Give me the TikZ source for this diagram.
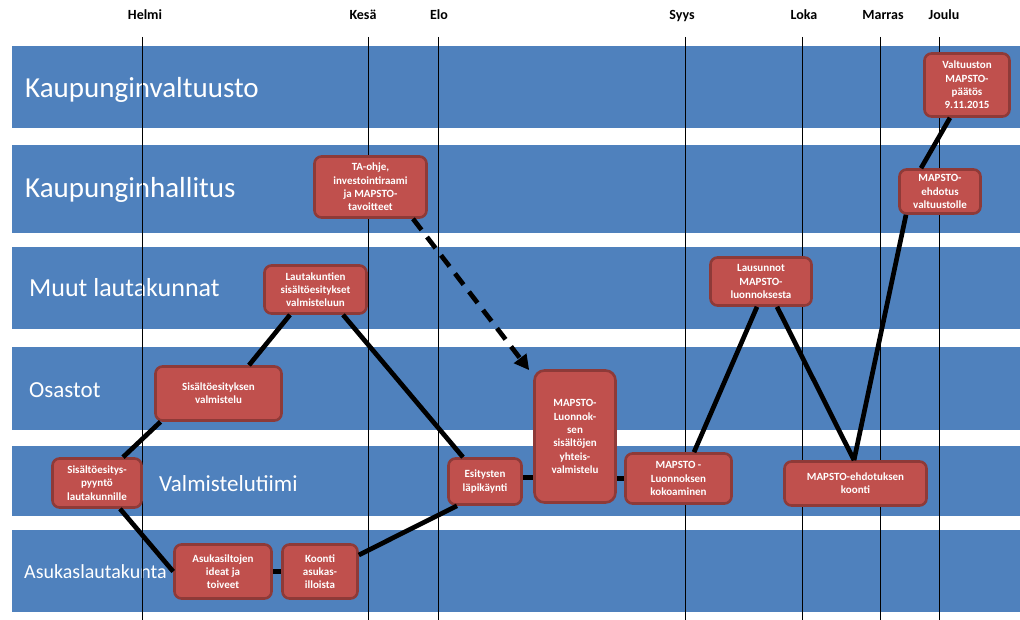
\documentclass[tikz,border=0pt]{standalone}
\usepackage{fontspec}
\setmainfont{Carlito}
\usetikzlibrary{arrows.meta}
\definecolor{laneblue}{HTML}{4F81BD}
\definecolor{boxred}{HTML}{C0504D}
\definecolor{boxedge}{HTML}{8E3A38}

\begin{document}
\begin{tikzpicture}[x=1pt,y=-1pt,
  lane/.style={fill=laneblue,draw=none},
  lanelabel/.style={anchor=base west,text=white,inner sep=0pt},
  month/.style={anchor=base,inner sep=0pt,font=\fontsize{14}{16}\selectfont\bfseries},
  gridline/.style={line width=1pt,black},
  stepbox/.style={draw=boxedge,fill=boxred,line width=2.6pt,rounded corners=7pt,
    text=white,align=center,inner sep=1pt,
    font=\fontsize{11}{13.3}\selectfont\bfseries},
  flow/.style={line width=4.7pt,black},
  dashflow/.style={line width=4.7pt,black,dash pattern=on 14pt off 9pt,
    -{Triangle[length=15pt,width=15pt]}}
]
\useasboundingbox (0,0) rectangle (1020,620);
\fill[white] (0,0) rectangle (1020,620);

% swim lanes
\fill[lane] (12,46.5) rectangle (1020,128);
\fill[lane] (12,145) rectangle (1020,233);
\fill[lane] (12,247.5) rectangle (1020,329);
\fill[lane] (12,347) rectangle (1020,430);
\fill[lane] (12,445.5) rectangle (1020,516);
\fill[lane] (12,530) rectangle (1020,612);

% lane titles
\node[lanelabel,font=\fontsize{29}{34}\selectfont] (lKv) at (25,98) {Kaupunginvaltuusto};
\node[lanelabel,font=\fontsize{29}{34}\selectfont] (lKh) at (25,198) {Kaupunginhallitus};
\node[lanelabel,font=\fontsize{26}{31}\selectfont] (lMl) at (29,297) {Muut lautakunnat};
\node[lanelabel,font=\fontsize{23}{28}\selectfont] (lOs) at (29,397) {Osastot};
\node[lanelabel,font=\fontsize{23}{28}\selectfont] (lVt) at (159,491) {Valmistelutiimi};
\node[lanelabel,font=\fontsize{20}{24}\selectfont] (lAl) at (24,578) {Asukaslautakunta};

% months
\node[month] (mHelmi) at (145,20) {Helmi};
\node[month] (mKesa) at (363,20) {Kesä};
\node[month] (mElo) at (439,20) {Elo};
\node[month] (mSyys) at (682,20) {Syys};
\node[month] (mLoka) at (804,20) {Loka};
\node[month] (mMarras) at (883,20) {Marras};
\node[month] (mJoulu) at (944,20) {Joulu};

\foreach \gx in {142,368,438,685,802,880,939}
  \draw[gridline] (\gx,37) -- (\gx,620);

% process steps
\node[stepbox,minimum width=85pt,minimum height=63pt] (valt) at (967,85)
  {Valtuuston\\MAPSTO-\\päätös\\9.11.2015};
\node[stepbox,minimum width=112pt,minimum height=61pt] (ta) at (370.5,187)
  {TA-ohje,\\investointiraami\\ja MAPSTO-\\tavoitteet};
\node[stepbox,minimum width=102pt,minimum height=48pt] (lautak) at (315.5,289.5)
  {Lautakuntien\\sisältöesitykset\\valmisteluun};
\node[stepbox,minimum width=81pt,minimum height=44pt] (ehdval) at (940,191.5)
  {MAPSTO-\\ehdotus\\valtuustolle};
\node[stepbox,minimum width=101pt,minimum height=48pt] (lausunnot) at (761,281.5)
  {Lausunnot\\MAPSTO-\\luonnoksesta};
\node[stepbox,minimum width=126pt,minimum height=54pt] (sisval) at (218.5,393.5)
  {Sisältöesityksen\\valmistelu};
\node[stepbox,minimum width=89pt,minimum height=49pt] (pyynto) at (97,483)
  {Sisältöesitys-\\pyyntö\\lautakunnille};
\node[stepbox,minimum width=97pt,minimum height=54pt] (asukas) at (223,571.5)
  {Asukasiltojen\\ideat ja\\toiveet};
\node[stepbox,minimum width=75pt,minimum height=54pt] (koonti) at (320,571.5)
  {Koonti\\asukas-\\illoista};
\node[stepbox,minimum width=73pt,minimum height=46pt] (esit) at (485,481.5)
  {Esitysten\\läpikäynti};
\node[stepbox,minimum width=81pt,minimum height=132pt,rounded corners=10pt] (yhteis) at (575,436.5)
  {MAPSTO-\\Luonnok-\\sen\\sisältöjen\\yhteis-\\valmistelu};
\node[stepbox,minimum width=106pt,minimum height=50pt] (kokoam) at (678.5,478.5)
  {MAPSTO -\\Luonnoksen\\kokoaminen};
\node[stepbox,minimum width=142pt,minimum height=44pt] (ehdkoonti) at (855.5,483.5)
  {MAPSTO-ehdotuksen\\koonti};

% flow between the steps
\draw[flow] ([xshift=26pt]pyynto.north) -- ([xshift=-58pt]sisval.south);
\draw[flow] ([xshift=30.5pt]sisval.north) -- ([xshift=-25.5pt]lautak.south);
\draw[flow] ([xshift=27.5pt]lautak.south) -- ([xshift=-22pt]esit.north);
\draw[flow] ([xshift=23pt]pyynto.south) -- (asukas.west);
\draw[flow] (asukas.east) -- (koonti.west);
\draw[flow] ([yshift=16.5pt]koonti.east) -- ([xshift=-28pt]esit.south);
\draw[flow] ([yshift=4pt]esit.east) -- ([yshift=4pt]esit.east -| yhteis.west);
\draw[flow] (kokoam.west -| yhteis.east) -- (kokoam.west);
\draw[flow] ([xshift=15.5pt]kokoam.north) -- ([xshift=-4pt]lausunnot.south);
\draw[flow] ([xshift=16pt]lausunnot.south) -- ([xshift=-1.5pt]ehdkoonti.north);
\draw[flow] ([xshift=-1.5pt]ehdkoonti.north) -- ([xshift=-34pt]ehdval.south);
\draw[flow] ([xshift=-19pt]ehdval.north) -- ([xshift=-17pt]valt.south);
\coordinate (tip) at ([xshift=-4pt,yshift=-1pt]yhteis.north west);
\draw[dashflow] ([xshift=42.5pt]ta.south) -- (tip);
\end{tikzpicture}
\end{document}
